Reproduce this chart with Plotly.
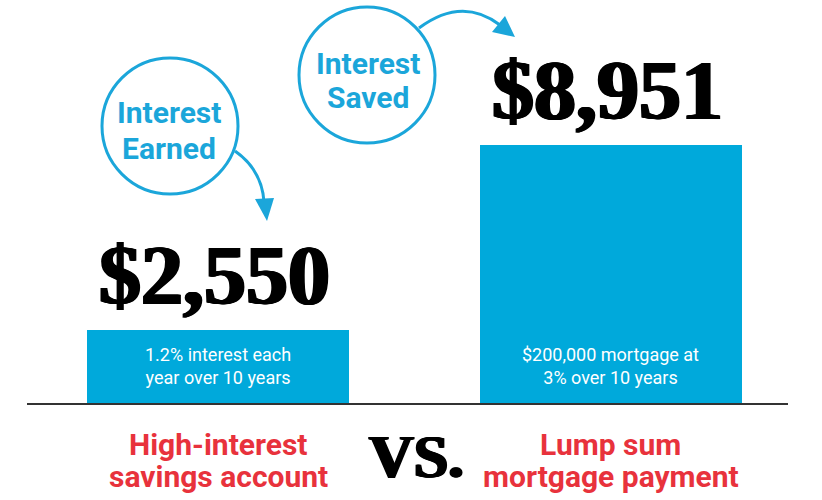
import plotly.graph_objects as go

# ---- data ----
categories = ["High-interest savings account", "Lump sum mortgage payment"]
label_lines = [["High-interest", "savings account"], ["Lump sum", "mortgage payment"]]
values = [2550, 8951]
bar_notes = ["1.2% interest each<br>year over 10 years", "$200,000 mortgage at<br>3% over 10 years"]
bubble_lines = [["Interest", "Earned"], ["Interest", "Saved"]]
vs_text = "VS."

# ---- style ----
W, H = 822, 500
BAR = "#00A9DB"
BLUE = "#1BA6DA"
RED = "#E8323C"
BIG_FONT = "Liberation Serif, DejaVu Serif Condensed, serif"
SANS = "Roboto, Open Sans, sans-serif"
THICK = "1.6px 0 0 #000, -1.6px 0 0 #000, 0.8px 0 0 #000, -0.8px 0 0 #000"

def pp(x, y):
    return x / W, 1 - y / H

xs = list(range(len(values)))

fig = go.Figure()
fig.add_trace(go.Bar(x=xs, y=values, width=0.6675, marker=dict(color=BAR, line=dict(width=0)),
                     hoverinfo="skip", showlegend=False))

shapes = []
# baseline
shapes.append(dict(type="line", xref="paper", yref="y", x0=27 / W, x1=788 / W, y0=0, y1=0,
                   line=dict(color="#333333", width=2), layer="above"))
# circles
for cx, cy, r in [(170, 126, 68), (367, 75, 68)]:
    shapes.append(dict(type="circle", xref="paper", yref="paper",
                       x0=(cx - r) / W, x1=(cx + r) / W, y0=1 - (cy + r) / H, y1=1 - (cy - r) / H,
                       line=dict(color=BLUE, width=3)))

# curved arrows
arcs = [
    [(235, 151), (262, 170), (264, 202)],
    [(419, 28), (462, -4), (500, 25)],
]
for pts in arcs:
    (x0, y0), (x1, y1), (x2, y2) = pts
    a, b = pp(x0, y0); c, d = pp(x1, y1); e, f = pp(x2, y2)
    shapes.append(dict(type="path", xref="paper", yref="paper",
                       path=f"M {a:.5f},{b:.5f} Q {c:.5f},{d:.5f} {e:.5f},{f:.5f}",
                       line=dict(color=BLUE, width=3)))
heads = [
    [(267, 221), (255, 199), (274, 198)],
    [(515, 37), (492, 32), (505, 16)],
]
for h in heads:
    s = "M " + " L ".join("%.5f,%.5f" % pp(x, y) for x, y in h) + " Z"
    shapes.append(dict(type="path", xref="paper", yref="paper", path=s,
                       fillcolor=BLUE, line=dict(width=0)))

ann = []
# value labels
for i, v in enumerate(values):
    ann.append(dict(x=xs[i] - 0.008, y=v, xref="x", yref="y", yanchor="bottom", yshift=6,
                    text=f"${v:,}", showarrow=False,
                    font=dict(family=BIG_FONT, size=84, color="black", weight="bold", shadow=THICK)))
# notes inside bars
for i, t in enumerate(bar_notes):
    ann.append(dict(x=xs[i], y=0, xref="x", yref="y", yanchor="bottom", yshift=14,
                    text=t, showarrow=False, font=dict(family=SANS, size=18, color="white")))
# category labels
for i, lines in enumerate(label_lines):
    for j, t in enumerate(lines):
        ann.append(dict(x=xs[i], y=1 - (444 + 32 * j) / H, xref="x", yref="paper",
                        xanchor="center", yanchor="middle", text=t, showarrow=False,
                        font=dict(family=SANS, size=30, color=RED, weight="bold")))
# bubble labels
for (cx, cy), lines in zip([(169, 113), (368, 63)], bubble_lines):
    for j, t in enumerate(lines):
        x, y = pp(cx, cy + 35 * j)
        ann.append(dict(x=x, y=y, xref="paper", yref="paper", xanchor="center", yanchor="middle",
                        text=t, showarrow=False,
                        font=dict(family=SANS, size=30, color=BLUE, weight="bold")))
# VS.
x, y = pp(416, 456)
ann.append(dict(x=x, y=y, xref="paper", yref="paper", xanchor="center", yanchor="middle", text=vs_text,
                showarrow=False, font=dict(family=BIG_FONT, size=62, color="black", weight="bold",
                                           shadow=THICK)))

x0 = -218 / 392.5
y_per_px = 8951 / 259
fig.update_layout(
    width=W, height=H, autosize=False,
    margin=dict(l=0, r=0, t=0, b=0, pad=0),
    paper_bgcolor="white", plot_bgcolor="white",
    xaxis=dict(range=[x0, x0 + W / 392.5], visible=False, fixedrange=True),
    yaxis=dict(range=[-(H - 404) * y_per_px, 404 * y_per_px], visible=False, fixedrange=True),
    shapes=shapes, annotations=ann, bargap=0,
)
fig.write_html("out.html", config={"displayModeBar": False})
